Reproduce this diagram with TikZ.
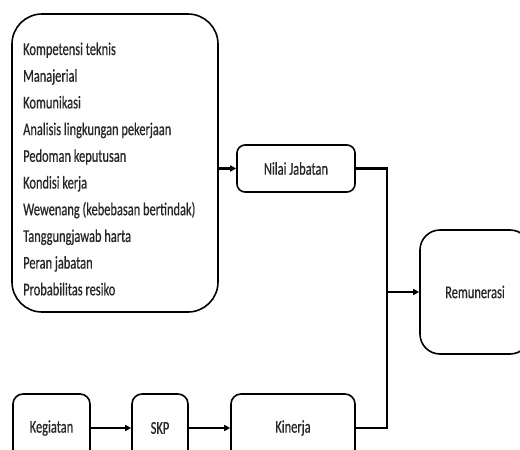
\documentclass[tikz,border=0pt]{standalone}
\usepackage{fontspec}
\setmainfont{Carlito}[FakeStretch=0.69,FakeBold=0.6]
\usetikzlibrary{arrows.meta}
\begin{document}
\begin{tikzpicture}[x=1pt,y=-1pt,
  box/.style={draw, line width=1.6pt, rounded corners=#1, inner sep=0pt},
  lbl/.style={font=\fontsize{18}{20}\selectfont, text=black!85},
  conn/.style={line width=2.2pt},
  arr/.style={conn, -{Triangle[length=6pt,width=6pt]}}]
\useasboundingbox (0,0) rectangle (520,450);
\clip (0,0) rectangle (520,450);
% big box of factors
\node[box=30pt, minimum width=206pt, minimum height=298pt] (faktor) at (115,163) {};
\foreach \t [count=\i] in {Kompetensi teknis, Manajerial, Komunikasi,
  Analisis lingkungan pekerjaan, Pedoman keputusan, Kondisi kerja,
  Wewenang (kebebasan bertindak), Tanggungjawab harta, Peran jabatan,
  Probabilitas resiko}
  \node[lbl, anchor=base west, inner sep=0pt] (item\i) at (23,{55+(\i-1)*26.7}) {\t};
% other boxes
\node[box=8pt, lbl, minimum width=118pt, minimum height=47pt] (nilai) at (296,168.5) {Nilai Jabatan};
\node[box=20pt, lbl, minimum width=110pt, minimum height=124pt] (remun) at (475,292) {Remunerasi};
\node[box=10pt, lbl, minimum width=77pt, minimum height=68pt] (kegiatan) at (51.5,428) {Kegiatan};
\node[box=10pt, lbl, minimum width=56pt, minimum height=68pt] (skp) at (160,428) {SKP};
\node[box=10pt, lbl, minimum width=124pt, minimum height=68pt] (kinerja) at (293,428) {Kinerja};
% connectors
\coordinate (j) at (387,292);
\draw[arr] (faktor.east |- nilai.west) -- (nilai.west);
\draw[conn] (nilai.east) -| (j) |- (kinerja.east);
\draw[arr] (j) -- (remun.west);
\draw[arr] (kegiatan) -- (skp);
\draw[arr] (skp) -- (kinerja);
\end{tikzpicture}
\end{document}
